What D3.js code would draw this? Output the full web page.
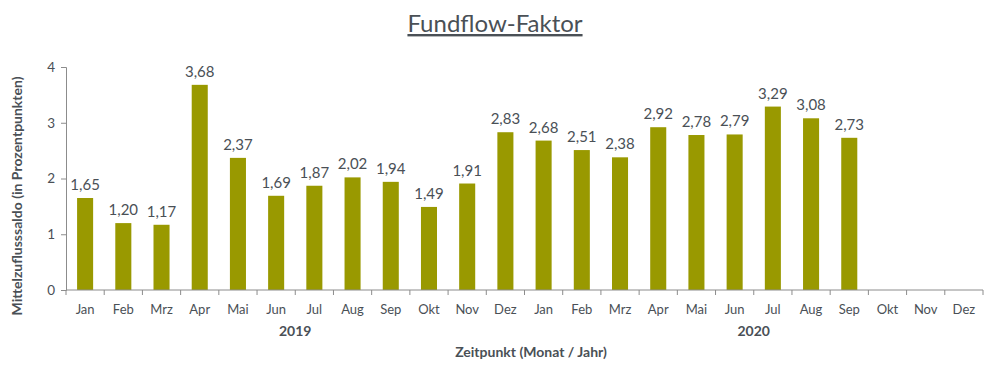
<!DOCTYPE html>
<html>
<head>
<meta charset="utf-8">
<script src="https://d3js.org/d3.v7.min.js"></script>
<style>
  body { margin: 0; background: #fff; font-family: Lato, 'Open Sans', sans-serif; }
  svg text { fill: #4a5056; }
</style>
</head>
<body>
<svg id="chart" width="1000" height="369"></svg>
<script>
const months = ["Jan","Feb","Mrz","Apr","Mai","Jun","Jul","Aug","Sep","Okt","Nov","Dez"];
const years = ["2019", "2020"];
const values = [1.65, 1.20, 1.17, 3.68, 2.37, 1.69, 1.87, 2.02, 1.94, 1.49, 1.91, 2.83,
                2.68, 2.51, 2.38, 2.92, 2.78, 2.79, 3.29, 3.08, 2.73, null, null, null];
const yTicks = [0, 1, 2, 3, 4];

const data = [];
years.forEach((yr, yi) => months.forEach((m, mi) => {
  data.push({ key: yr + "-" + m, month: m, year: yr, value: values[yi * 12 + mi] });
}));

const plot = { left: 66, right: 983, top: 67, bottom: 290 };
const svg = d3.select("#chart");
const fmt = v => v.toFixed(2).replace(".", ",");

const x = d3.scaleBand().domain(data.map(d => d.key)).range([plot.left, plot.right]).paddingInner(0.58).paddingOuter(0.29);
const xGrid = d3.scaleBand().domain(data.map(d => d.key)).range([plot.left, plot.right]);
const y = d3.scaleLinear().domain([0, 4]).range([plot.bottom, plot.top]);

// title
svg.append("text")
  .attr("x", 495).attr("y", 32)
  .attr("text-anchor", "middle")
  .style("font-size", "24px")
  .style("text-decoration", "underline")
  .text("Fundflow-Faktor");

// bars
svg.selectAll(".bar")
  .data(data.filter(d => d.value != null))
  .enter().append("rect")
  .attr("class", "bar")
  .attr("x", d => x(d.key))
  .attr("width", x.bandwidth())
  .attr("y", d => y(d.value))
  .attr("height", d => y(0) - y(d.value))
  .attr("fill", "#999900");

svg.selectAll(".lbl")
  .data(data.filter(d => d.value != null))
  .enter().append("text")
  .attr("class", "lbl")
  .attr("x", d => x(d.key) + x.bandwidth() / 2)
  .attr("y", d => y(d.value) - 8)
  .attr("text-anchor", "middle")
  .style("font-size", "15px")
  .text(d => fmt(d.value));

// y axis
const yAxis = svg.append("g")
  .attr("transform", `translate(${plot.left},0)`)
  .call(d3.axisLeft(y).tickValues(yTicks).tickSize(5).tickPadding(6).tickFormat(d3.format("d")));
yAxis.select(".domain").attr("stroke", "#8c8c8c");
yAxis.selectAll(".tick line").attr("stroke", "#8c8c8c");
yAxis.selectAll("text").style("font-size", "13.5px").style("font-family", "Lato").attr("fill", "#4a5056");

// x axis: line + ticks at band boundaries
svg.append("line")
  .attr("x1", plot.left).attr("x2", plot.right)
  .attr("y1", plot.bottom).attr("y2", plot.bottom)
  .attr("stroke", "#8c8c8c");
svg.selectAll(".xtick")
  .data(data.map(d => d.key).concat(["end"]))
  .enter().append("line")
  .attr("class", "xtick")
  .attr("x1", d => d === "end" ? plot.right : xGrid(d))
  .attr("x2", d => d === "end" ? plot.right : xGrid(d))
  .attr("y1", plot.bottom).attr("y2", plot.bottom + 5)
  .attr("stroke", "#8c8c8c");

svg.selectAll(".mlbl")
  .data(data)
  .enter().append("text")
  .attr("class", "mlbl")
  .attr("x", d => xGrid(d.key) + xGrid.bandwidth() / 2)
  .attr("y", 314)
  .attr("text-anchor", "middle")
  .style("font-size", "13px")
  .text(d => d.month);

svg.selectAll(".ylbl")
  .data(years)
  .enter().append("text")
  .attr("class", "ylbl")
  .attr("x", d => xGrid(d + "-Jun") + xGrid.bandwidth())
  .attr("y", 336)
  .attr("text-anchor", "middle")
  .style("font-size", "14px")
  .style("font-weight", "bold")
  .text(d => d);

svg.append("text")
  .attr("x", 531).attr("y", 357)
  .attr("text-anchor", "middle")
  .style("font-size", "14px")
  .style("font-weight", "bold")
  .text("Zeitpunkt (Monat / Jahr)");

svg.append("text")
  .attr("transform", "translate(22,196) rotate(-90)")
  .attr("text-anchor", "middle")
  .style("font-size", "14px")
  .style("font-weight", "bold")
  .text("Mittelzuflusssaldo (in Prozentpunkten)");
</script>
</body>
</html>
